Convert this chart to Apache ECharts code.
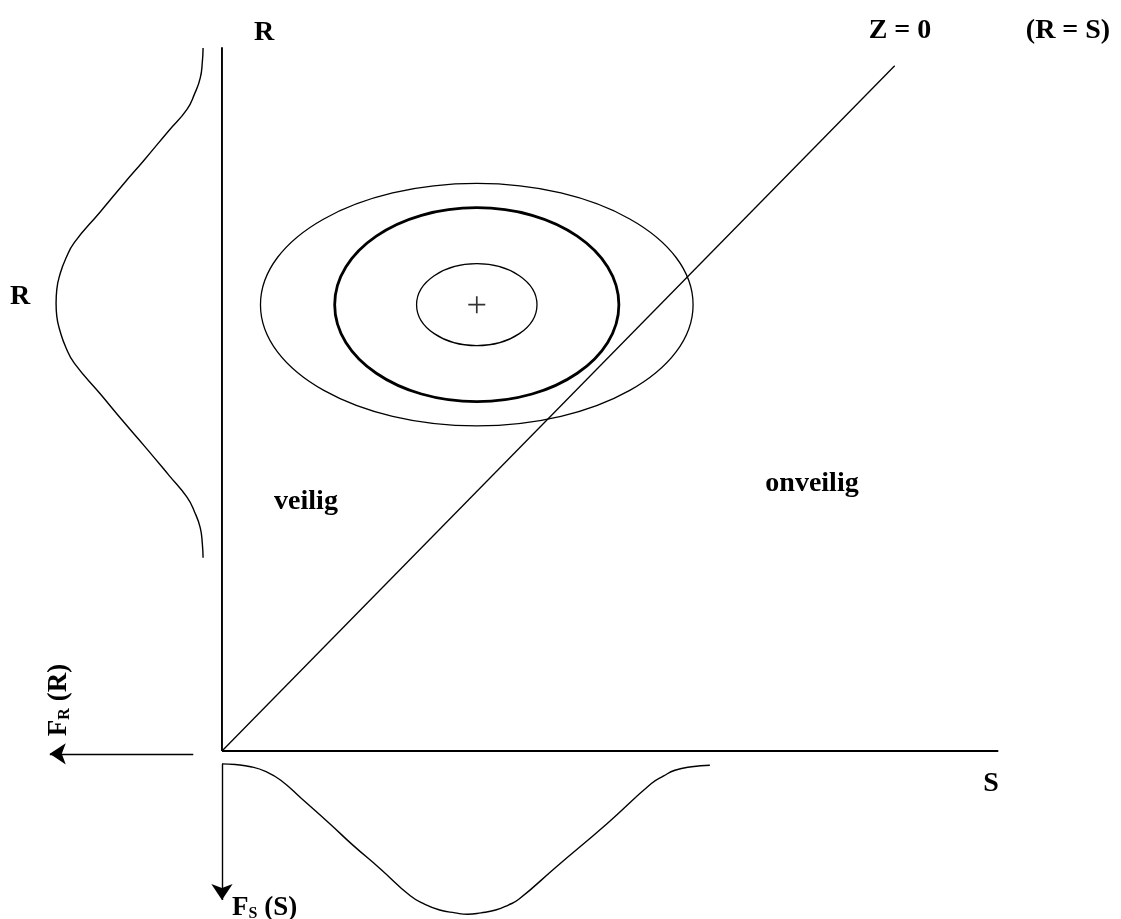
<!DOCTYPE html>
<html>
<head>
<meta charset="utf-8">
<title>R - S</title>
<script src="https://cdn.jsdelivr.net/npm/echarts@6/dist/echarts.min.js"></script>
<style>
html, body { margin: 0; padding: 0; background: #fff; }
#chart-container { width: 1121px; height: 919px; }
</style>
</head>
<body>
<div id="chart-container"></div>
<script>
// axes of the R-S plane (S horizontal, R vertical)
var sAxisLine = [[0, 0], [11.09, 0]];
var rAxisLine = [[0, 0], [0, 9.87]];
// Z = 0 line (R = S)
var zLine = [[0, 0], [9.61, 9.61]];

// density of R, drawn to the left of the R axis
var rDensR = [9.86, 9.67, 9.44, 9.22, 9.00, 8.70, 8.29, 7.96, 7.56, 7.13, 6.91, 6.70, 6.47, 6.28,
              6.10, 5.88, 5.66, 5.44, 5.01, 4.61, 4.28, 3.87, 3.56, 3.35, 3.13, 2.90, 2.71];
var rDensF = [-0.27, -0.28, -0.31, -0.39, -0.50, -0.76, -1.11, -1.40, -1.74, -2.11, -2.23, -2.31, -2.36, -2.37,
              -2.36, -2.31, -2.23, -2.11, -1.74, -1.40, -1.11, -0.76, -0.50, -0.39, -0.31, -0.28, -0.27];

// density of S, drawn below the S axis
var sDensS = [0, 0.19, 0.41, 0.63, 0.84, 1.14, 1.54, 1.87, 2.26, 2.69, 2.90, 3.11, 3.33, 3.51,
              3.70, 3.91, 4.09, 4.24, 4.77, 5.50, 6.13, 6.31, 6.47, 6.71, 6.97];
var sDensF = [-0.18, -0.19, -0.22, -0.29, -0.41, -0.67, -1.02, -1.32, -1.65, -2.03, -2.15, -2.23, -2.27, -2.29,
              -2.27, -2.23, -2.16, -2.08, -1.63, -1.02, -0.46, -0.35, -0.27, -0.22, -0.20];

// contour ellipses of the joint density: centre S, centre R, half width, half height
var ellipses = [
    [3.64, 6.26, 3.09, 1.70],
    [3.64, 6.26, 2.03, 1.36],
    [3.64, 6.26, 0.86, 0.575]
];
var meanPoint = [[3.64, 6.26]];

// arrows for F_R(R) and F_S(S)
var arrows = [
    [[-0.41, -0.04], [-2.46, -0.04]],
    [[0, -0.18], [0, -2.09]]
];

function zip(a, b) {
    var out = [];
    for (var i = 0; i < a.length; i++) out.push([a[i], b[i]]);
    return out;
}

var ink = '#000';
var ellipseWidths = [1.3, 2.8, 1.3];
var font = '"Liberation Serif", "Times New Roman", serif';

var chart = echarts.init(document.getElementById('chart-container'));

function plainLine(data, width, smooth) {
    return {
        type: 'line',
        data: data,
        symbol: 'none',
        smooth: smooth || false,
        clip: false,
        silent: true,
        lineStyle: { color: ink, width: width }
    };
}

function label(text, x, y, size) {
    return {
        type: 'text',
        x: x, y: y,
        style: {
            text: text,
            font: 'bold ' + (size || 28) + 'px ' + font,
            fill: ink,
            align: 'center',
            verticalAlign: 'middle'
        }
    };
}

var option = {
    animation: false,
    backgroundColor: '#fff',
    grid: { left: 0, right: 0, top: 0, bottom: 0 },
    xAxis: { type: 'value', min: -3.171, max: 12.843, show: false },
    yAxis: { type: 'value', min: -2.356, max: 10.533, show: false },
    series: [
        plainLine(sAxisLine, 1.9),
        plainLine(rAxisLine, 1.9),
        plainLine(zLine, 1.3),
        plainLine(zip(rDensF, rDensR), 1.4, 0.5),
        plainLine(zip(sDensS, sDensF), 1.4, 0.5),
        {
            type: 'custom',
            data: ellipses,
            clip: false,
            silent: true,
            encode: { x: 0, y: 1 },
            renderItem: function (params, api) {
                var c = api.coord([api.value(0), api.value(1)]);
                var s = api.size([api.value(2), api.value(3)]);
                return {
                    type: 'ellipse',
                    shape: { cx: c[0], cy: c[1], rx: s[0], ry: s[1] },
                    style: { fill: 'none', stroke: ink, lineWidth: ellipseWidths[params.dataIndex] }
                };
            }
        },
        {
            type: 'scatter',
            data: meanPoint,
            symbol: 'path://M0,4.5H10V5.5H0ZM4.5,0H5.5V10H4.5Z',
            symbolSize: 17,
            itemStyle: { color: ink },
            silent: true
        },
        {
            type: 'lines',
            coordinateSystem: 'cartesian2d',
            data: arrows.map(function (a) { return { coords: a }; }),
            symbol: ['none', 'arrow'],
            symbolSize: 16,
            silent: true,
            lineStyle: { color: ink, width: 1.4, opacity: 1 }
        }
    ],
    graphic: [
        label('R', 264, 33),
        label('R', 20, 297),
        label('Z = 0', 900, 31),
        label('(R = S)', 1068, 31),
        label('veilig', 306, 502),
        label('onveilig', 812, 484),
        label('S', 991, 784),
        {
            type: 'text',
            x: 57, y: 700,
            rotation: Math.PI / 2,
            style: {
                text: '{b|F}{s|R}{b| (R)}',
                align: 'center',
                verticalAlign: 'middle',
                fill: ink,
                rich: {
                    b: { font: 'bold 27px ' + font, fill: ink, lineHeight: 32, verticalAlign: 'bottom' },
                    s: { font: 'bold 16px ' + font, fill: ink, lineHeight: 32, verticalAlign: 'bottom' }
                }
            }
        },
        {
            type: 'text',
            x: 232, y: 906,
            style: {
                text: '{b|F}{s|S}{b| (S)}',
                align: 'left',
                verticalAlign: 'middle',
                fill: ink,
                rich: {
                    b: { font: 'bold 27px ' + font, fill: ink, lineHeight: 32, verticalAlign: 'bottom' },
                    s: { font: 'bold 16px ' + font, fill: ink, lineHeight: 32, verticalAlign: 'bottom' }
                }
            }
        }
    ]
};

chart.setOption(option);

window.addEventListener('resize', function () {
    chart.resize();
});
</script>
</body>
</html>
